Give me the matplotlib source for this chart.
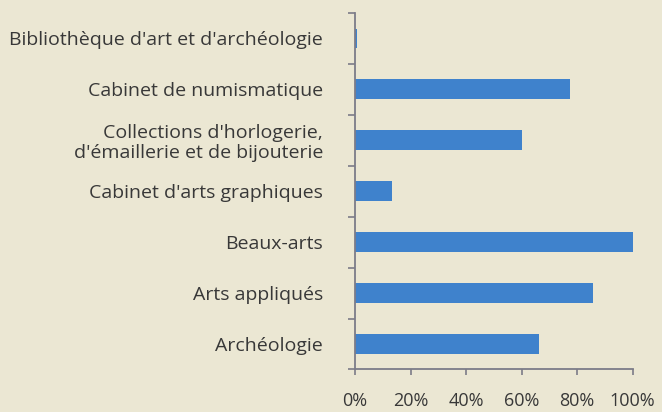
import matplotlib.pyplot as plt
import numpy as np

categories = ["Bibliothèque d'art et d'archéologie",
              "Cabinet de numismatique",
              "Collections d'horlogerie,\nd'émaillerie et de bijouterie",
              "Cabinet d'arts graphiques",
              "Beaux-arts",
              "Arts appliqués",
              "Archéologie"]
values = [0.6, 77.4, 60.0, 13.4, 100.0, 85.8, 66.1]
xticks = [0, 20, 40, 60, 80, 100]
xlabels = ["0%", "20%", "40%", "60%", "80%", "100%"]

bg = "#ebe7d3"
bar_color = "#3f82cc"
axis_color = "#7c7c88"
text_color = "#383838"

plt.rcParams['font.family'] = ['Open Sans', 'DejaVu Sans']

fig = plt.figure(figsize=(6.62, 4.12), dpi=100, facecolor=bg)
ax = fig.add_axes([0.5363, 0.1032, 0.4194, 0.8652])
ax.set_facecolor(bg)

y = np.arange(len(categories))
ax.barh(y, values, height=0.39, color=bar_color)

ax.set_xlim(0, 100)
ax.set_ylim(len(categories) - 0.5, -0.5)

ax.set_yticks(y)
ax.set_yticklabels(categories, fontsize=14, color=text_color, linespacing=1.15)
ax.set_yticks(np.arange(len(categories) + 1) - 0.5, minor=True)
ax.tick_params(axis="y", which="major", length=0, pad=23)
ax.tick_params(axis="y", which="minor", length=5, width=1.2, color=axis_color)
for lab in ax.get_yticklabels():
    lab.set_horizontalalignment("right")

ax.set_xticks(xticks)
ax.set_xticklabels(xlabels, fontsize=13, color=text_color)
ax.tick_params(axis="x", length=4, width=1.2, color=axis_color, pad=12)

for side in ["top", "right"]:
    ax.spines[side].set_visible(False)
for side in ["left", "bottom"]:
    ax.spines[side].set_color(axis_color)
    ax.spines[side].set_linewidth(1.3)

fig.savefig("out.png", dpi=100, facecolor=bg)
